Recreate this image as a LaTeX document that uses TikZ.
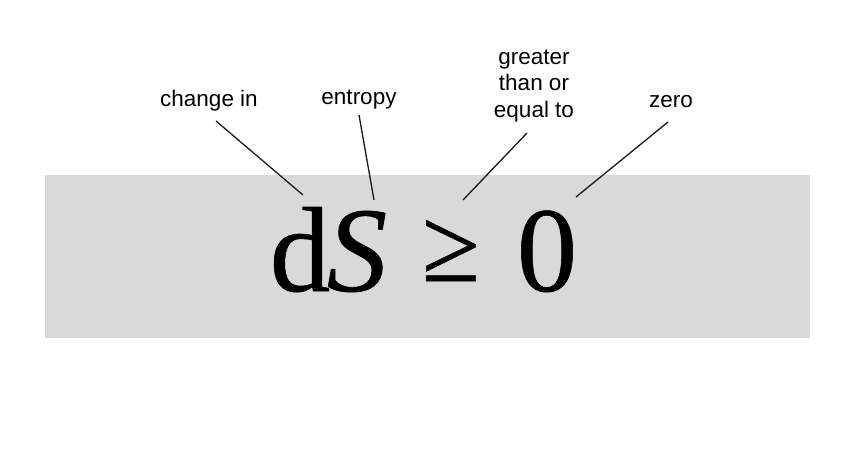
\documentclass[tikz,border=0pt]{standalone}
\usepackage{fontspec}
\newfontfamily\labelfont{Liberation Sans}
\newfontfamily\formulafont[FakeBold=0.5]{Liberation Serif}
\usetikzlibrary{positioning}
\definecolor{panelgray}{RGB}{217,217,217}

\begin{document}
\begin{tikzpicture}[
    x=1pt, y=-1pt,
    panel/.style={fill=panelgray, draw=none},
    label/.style={font=\labelfont\fontsize{22.5}{26.5}\selectfont, align=center, inner sep=0pt},
    glyph/.style={font=\formulafont\fontsize{121}{121}\selectfont, inner sep=0pt, anchor=base},
    pointer/.style={line width=1.3pt, black!90}
]
    \useasboundingbox (0,0) rectangle (849,458);

    % Grey panel behind the formula
    \fill[panel] (45,175) rectangle (810,338);

    % Formula glyphs
    \node[glyph] (sym-d) at (300,291) {d};
    \node[glyph] (sym-S) at (357,291) {\itshape S};
    \node[glyph, font=\formulafont\fontsize{106}{106}\selectfont] (sym-ge) at (451,281) {≥};
    \node[glyph] (sym-zero) at (547,291) {0};

    % Labels
    \node[label] (lab-change) at (209,101) {change in};
    \node[label] (lab-entropy) at (359,100) {entropy};
    \node[label] (lab-ge) at (534,86) {greater\\than or\\equal to};
    \node[label] (lab-zero) at (671,102) {zero};

    % Pointer ends
    \coordinate (change-a) at (216,121);
    \coordinate (change-b) at (303,195);
    \coordinate (entropy-a) at (359,115);
    \coordinate (entropy-b) at (374,200);
    \coordinate (ge-a) at (527,133);
    \coordinate (ge-b) at (463,200);
    \coordinate (zero-a) at (668,122);
    \coordinate (zero-b) at (576,197);

    \draw[pointer] (change-a) -- (change-b);
    \draw[pointer] (entropy-a) -- (entropy-b);
    \draw[pointer] (ge-a) -- (ge-b);
    \draw[pointer] (zero-a) -- (zero-b);
\end{tikzpicture}
\end{document}
